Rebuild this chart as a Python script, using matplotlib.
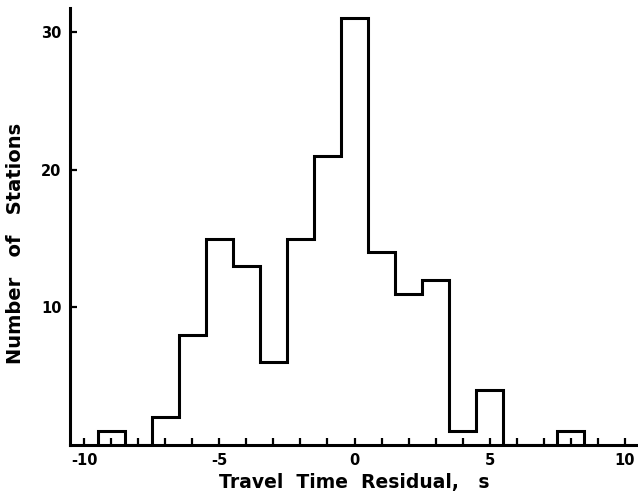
import matplotlib
matplotlib.use("Agg")
import matplotlib.pyplot as plt
import numpy as np

# Histogram data: bin edges (s) and station counts
bin_edges = [-9.5, -8.5, -7.5, -6.5, -5.5, -4.5, -3.5, -2.5, -1.5, -0.5,
             0.5, 1.5, 2.5, 3.5, 4.5, 5.5, 6.5, 7.5, 8.5]
counts = [1, 0, 2, 8, 15, 13, 6, 15, 21, 31, 14, 11, 12, 1, 4, 0, 0, 1]

x_major = [-10, -5, 0, 5, 10]
x_minor = list(range(-10, 11))
y_major = [10, 20, 30]

plt.rcParams['font.family'] = ['DejaVu Sans']
plt.rcParams['font.weight'] = 'bold'

fig = plt.figure(figsize=(6.38, 4.98), dpi=100)
ax = fig.add_axes([70/638, 53/498, 568/638, 437/498])

ax.stairs(counts, bin_edges, baseline=0, fill=False, color='black',
          linewidth=2.2, zorder=3)

ax.set_xlim(-10.52, 10.48)
ax.set_ylim(0, 31.75)

for s in ['top', 'right']:
    ax.spines[s].set_visible(False)
for s in ['left', 'bottom']:
    ax.spines[s].set_linewidth(2.2)
    ax.spines[s].set_zorder(4)

ax.set_xticks(x_major)
ax.set_xticks(x_minor, minor=True)
ax.set_xticklabels([str(v) for v in x_major])
ax.set_yticks(y_major)
ax.set_yticklabels([str(v) for v in y_major])

ax.tick_params(axis='both', which='both', direction='in', width=1.6,
               color='black', labelsize=10.5)
ax.tick_params(axis='x', which='both', length=5, pad=6)
ax.tick_params(axis='y', which='major', length=5, pad=6)
for lab in ax.get_xticklabels() + ax.get_yticklabels():
    lab.set_fontweight('bold')

ax.set_xlabel('Travel  Time  Residual,   s', fontsize=13.5, fontweight='bold',
              labelpad=3)
ax.set_ylabel('Number   of   Stations', fontsize=14, fontweight='bold')
ax.yaxis.set_label_coords(-0.079, 0.462)

fig.savefig('out.png', dpi=100)
